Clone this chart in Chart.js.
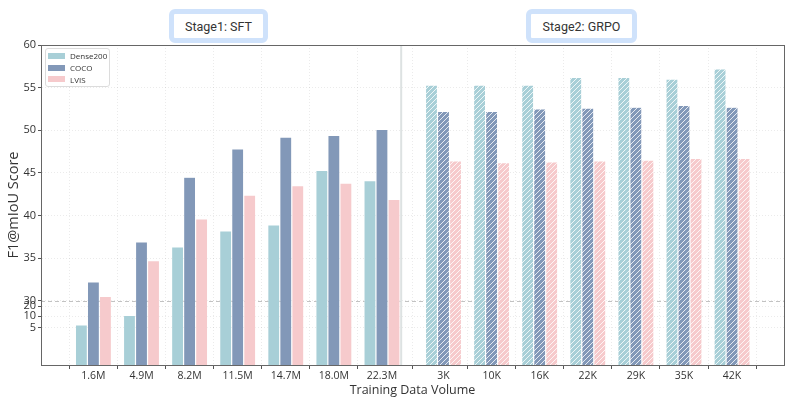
<!DOCTYPE html>
<html><head><meta charset="utf-8">
<script src="https://cdn.jsdelivr.net/npm/chart.js@4.4.0/dist/chart.umd.min.js"></script>
<style>
html,body{margin:0;padding:0;background:#fff;}
#wrap{position:relative;width:793px;height:399px;overflow:hidden;background:#fff;}
#c{position:absolute;left:0;top:0;}
.stage{position:absolute;top:9px;height:34px;box-sizing:border-box;border:5px solid #cfe2fb;border-radius:6px;background:#fff;font-family:Roboto,sans-serif;font-size:12.5px;color:#333;display:flex;align-items:center;justify-content:center;}
.legend{position:absolute;left:45px;top:48px;width:65px;height:39px;box-sizing:border-box;border:1px solid #dcdcdc;border-radius:3px;background:rgba(255,255,255,0.9);font-family:'Open Sans',sans-serif;font-size:8px;color:#333;}
.li{position:absolute;left:2px;height:12px;display:flex;align-items:center;white-space:nowrap;}
.sw{width:17px;height:6px;margin-right:5px;}
</style></head>
<body>
<div id="wrap">
<canvas id="c" width="793" height="399"></canvas>
<div class="legend" id="legend"></div>
</div>
<script>
// ---- data ----
const categories = ['1.6M','4.9M','8.2M','11.5M','14.7M','18.0M','22.3M','3K','10K','16K','22K','29K','35K','42K'];
const seriesNames = ['Dense200','COCO','LVIS'];
const dense200 = [6.2, 10.7, 36.3, 38.2, 38.9, 45.3, 44.1, 55.3, 55.3, 55.3, 56.2, 56.2, 56.0, 57.2];
const coco     = [32.2, 36.9, 44.5, 47.8, 49.2, 49.4, 50.1, 52.2, 52.2, 52.5, 52.6, 52.7, 52.9, 52.7];
const lvis     = [30.5, 34.7, 39.6, 42.4, 43.5, 43.8, 41.9, 46.4, 46.2, 46.3, 46.4, 46.5, 46.7, 46.7];
const yTickValues = [5, 10, 20, 30, 35, 40, 45, 50, 55, 60];
const stageLabels = ['Stage1: SFT', 'Stage2: GRPO'];
const sftCount = 7;

// ---- styles ----
const colors = ['#a8cfd7', '#8298b8', '#f6cacc'];
const GAP = 0.28;          // extra spacing between stages (category units)
const SEP = 6.4;           // stage separator position (category units)
const xPos = categories.map((_, i) => i < sftCount ? i : i + GAP);

// broken y axis: piecewise mapping of values to linear display units
const KV = [0, 5, 10, 20, 30, 60];
const KT = [22.46, 26.83, 28.2, 29.38, 30, 60];
function T(v){
  if (v <= KV[0]) return KT[0];
  for (let i = 1; i < KV.length; i++) {
    if (v <= KV[i]) return KT[i-1] + (v - KV[i-1]) / (KV[i] - KV[i-1]) * (KT[i] - KT[i-1]);
  }
  return KT[KT.length-1] + (v - KV[KV.length-1]);
}
function Tinv(t){
  if (t <= KT[0]) return KV[0];
  for (let i = 1; i < KT.length; i++) {
    if (t <= KT[i]) return KV[i-1] + (t - KT[i-1]) / (KT[i] - KT[i-1]) * (KV[i] - KV[i-1]);
  }
  return KV[KV.length-1] + (t - KT[KT.length-1]);
}
class BrokenScale extends Chart.LinearScale {
  static id = 'broken';
  buildTicks(){ return yTickValues.map(v => ({value: v})); }
  getPixelForValue(v){
    const t0 = T(this.min), t1 = T(this.max);
    return this.getPixelForDecimal((T(v) - t0) / (t1 - t0));
  }
  getValueForPixel(p){
    const t0 = T(this.min), t1 = T(this.max);
    return Tinv(t0 + this.getDecimalForPixel(p) * (t1 - t0));
  }
}
Chart.register(BrokenScale);

function hatch(color){
  const s = 5;
  const c = document.createElement('canvas'); c.width = s; c.height = s;
  const g = c.getContext('2d');
  g.fillStyle = color; g.fillRect(0, 0, s, s);
  g.strokeStyle = 'rgba(255,255,255,0.8)'; g.lineWidth = 1;
  g.beginPath();
  g.moveTo(-1, s+1); g.lineTo(s+1, -1);
  g.moveTo(-1, 1); g.lineTo(1, -1);
  g.moveTo(s-1, s+1); g.lineTo(s+1, s-1);
  g.stroke();
  return document.getElementById('c').getContext('2d').createPattern(c, 'repeat');
}

const seriesValues = [dense200, coco, lvis];
const datasets = seriesNames.map((name, k) => {
  const pat = hatch(colors[k]);
  return {
    label: name,
    data: seriesValues[k].map((v, i) => ({x: xPos[i], y: v})),
    backgroundColor: ctx => ctx.dataIndex >= sftCount ? pat : colors[k],
    borderColor: 'rgba(255,255,255,0.7)',
    borderWidth: 0.6,
    categoryPercentage: 0.75,
    barPercentage: 1.0
  };
});

// legend (HTML)
const lg = document.getElementById('legend');
seriesNames.forEach((n, k) => {
  const d = document.createElement('div'); d.className = 'li'; d.style.top = (0.7 + k * 11.8) + 'px';
  d.innerHTML = '<span class="sw" style="background:' + colors[k] + '"></span>' + n;
  lg.appendChild(d);
});
// stage boxes (HTML)
const wrap = document.getElementById('wrap');
const stageBoxes = [[169, 99], [526, 111]];
stageLabels.forEach((t, i) => {
  const d = document.createElement('div'); d.className = 'stage';
  d.style.left = stageBoxes[i][0] + 'px'; d.style.width = stageBoxes[i][1] + 'px';
  d.textContent = t; wrap.appendChild(d);
});

const overlay = {
  id: 'overlay',
  beforeDatasetsDraw(chart){
    const {ctx, chartArea: a, scales: {x, y}} = chart;
    ctx.save();
    ctx.strokeStyle = '#c2c2c2'; ctx.lineWidth = 1; ctx.setLineDash([4, 3]);
    const y30 = Math.round(y.getPixelForValue(30)) + 0.5;
    ctx.beginPath(); ctx.moveTo(a.left, y30); ctx.lineTo(a.right, y30); ctx.stroke();
    ctx.setLineDash([]);
    ctx.strokeStyle = '#dde2e2'; ctx.lineWidth = 2;
    const xs = x.getPixelForValue(SEP);
    ctx.beginPath(); ctx.moveTo(xs, a.top); ctx.lineTo(xs, a.bottom); ctx.stroke();
    ctx.restore();
  },
  afterDraw(chart){
    const {ctx, chartArea: a} = chart;
    ctx.save();
    ctx.strokeStyle = '#666'; ctx.lineWidth = 1;
    ctx.strokeRect(Math.round(a.left) + 0.5, Math.round(a.top) + 0.5, Math.round(a.right - a.left), Math.round(a.bottom - a.top));
    ctx.restore();
  }
};

Chart.defaults.font.family = "'Open Sans', sans-serif";
Chart.defaults.color = '#333';

new Chart(document.getElementById('c'), {
  type: 'bar',
  data: { datasets },
  options: {
    responsive: false,
    animation: false,
    layout: { padding: { top: 45, right: 9, left: 0, bottom: 0 } },
    plugins: { legend: { display: false }, tooltip: { enabled: false } },
    scales: {
      x: {
        type: 'linear', min: -1.09, max: 14.36, offset: false,
        afterBuildTicks: s => { s.ticks = xPos.map(v => ({value: v})); },
        afterFit: s => { s.height = 34; },
        ticks: { autoSkip: false, maxRotation: 0, minRotation: 0, callback: (v, i) => categories[i], font: { size: 10.5 }, color: '#333', padding: 1 },
        grid: { color: 'rgba(0,0,0,0.08)', tickColor: '#555', tickLength: 4, tickWidth: 1 },
        border: { color: '#666', dash: [1, 2] },
        title: { display: true, text: 'Training Data Volume', font: { size: 12.5 }, color: '#333', padding: { top: 0, bottom: 1 } }
      },
      y: {
        type: 'broken', min: 0, max: 60,
        afterFit: s => { s.width = 41; },
        ticks: { autoSkip: false, callback: v => String(v), font: { size: 11 }, color: '#333', padding: 2 },
        grid: { color: 'rgba(0,0,0,0.08)', tickColor: '#555', tickLength: 3, tickWidth: 1 },
        border: { color: '#666', dash: [1, 2] },
        title: { display: true, text: 'F1@mIoU Score', font: { size: 14.5 }, color: '#333', padding: { top: 5, bottom: 0 } }
      }
    }
  },
  plugins: [overlay]
});
</script>
</body></html>
